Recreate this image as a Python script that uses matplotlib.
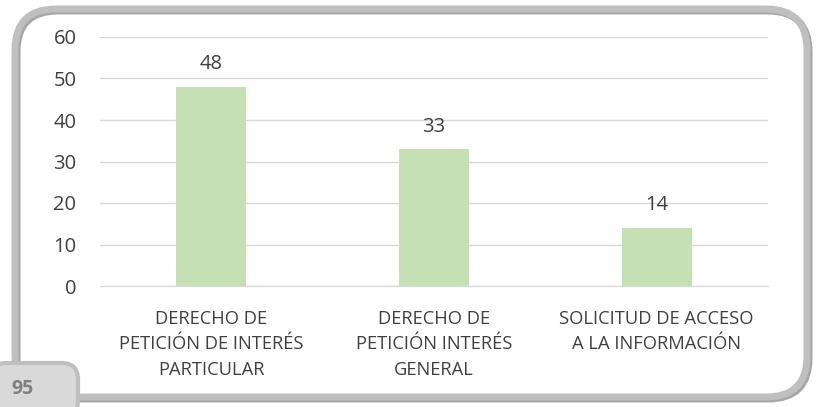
import matplotlib
matplotlib.use("Agg")
import matplotlib.pyplot as plt
from matplotlib.patches import FancyBboxPatch

categories = ["DERECHO DE\nPETICIÓN DE INTERÉS\nPARTICULAR",
              "DERECHO DE\nPETICIÓN INTERÉS\nGENERAL",
              "SOLICITUD DE ACCESO\nA LA INFORMACIÓN"]
values = [48, 33, 14]
yticks = [0, 10, 20, 30, 40, 50, 60]
page_label = "95"

plt.rcParams['font.family'] = ['Open Sans', 'DejaVu Sans']
W, H = 817, 407
fig = plt.figure(figsize=(W/100, H/100), dpi=100)

# shadow + outer rounded frame
shadow = FancyBboxPatch((17/W, 8/H), 792/W, 388/H,
                        boxstyle="round,pad=0,rounding_size=0.05",
                        transform=fig.transFigure, fill=False,
                        edgecolor="#A6A6A6", linewidth=5, mutation_aspect=W/H)
fig.patches.append(shadow)
frame = FancyBboxPatch((15/W, 10/H), 792/W, 388/H,
                       boxstyle="round,pad=0,rounding_size=0.05",
                       transform=fig.transFigure, fill=False,
                       edgecolor="#BFBFBF", linewidth=5, mutation_aspect=W/H)
fig.patches.append(frame)

ax = fig.add_axes([100/W, 1-286/H, 668/W, 249/H])
x = range(len(categories))
ax.bar(x, values, width=0.315, color="#C5E0B4", zorder=3)
for xi, v in zip(x, values):
    ax.text(xi, v + 3, str(v), ha="center", va="bottom", fontsize=14.5, color="#404040")
ax.set_xlim(-0.5, 2.5)
ax.set_ylim(0, 60)
ax.set_yticks(yticks)
ax.grid(axis="y", color="#D9D9D9", linewidth=1, zorder=0)
for s in ax.spines.values():
    s.set_visible(False)
ax.spines['bottom'].set_visible(True)
ax.spines['bottom'].set_color("#D9D9D9")
ax.tick_params(axis="both", length=0, labelsize=14.5, colors="#404040")
ax.tick_params(axis="y", pad=17)
ax.set_xticks(list(x))
ax.set_xticklabels(categories, fontsize=13.2, color="#404040", linespacing=1.55)
ax.tick_params(axis="x", pad=17)

# page tab
tab = FancyBboxPatch((-10/W, -10/H), 88/W, 54/H,
                     boxstyle="round,pad=0,rounding_size=0.02",
                     transform=fig.transFigure, facecolor="#D9D9D9",
                     edgecolor="#BFBFBF", linewidth=3, mutation_aspect=W/H)
fig.patches.append(tab)
fig.text(22/W, 1-389/H, page_label, ha="center", va="center", fontsize=14,
         fontweight="bold", color="#7F7F7F")

fig.savefig("out.png", dpi=100)
